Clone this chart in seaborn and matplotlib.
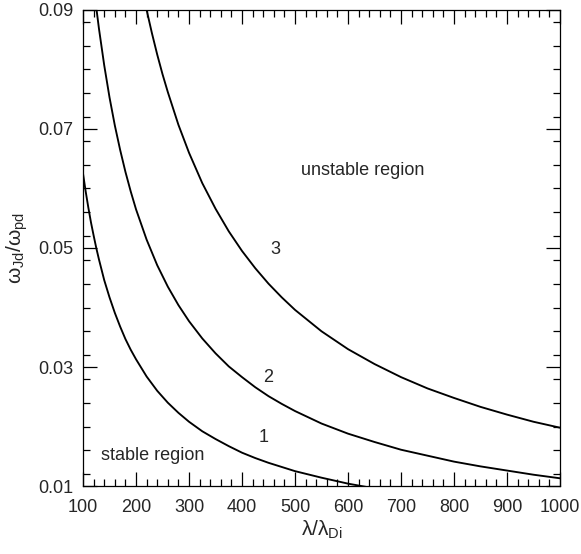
import numpy as np
import pandas as pd
import matplotlib
matplotlib.use("Agg")
import matplotlib.pyplot as plt
from matplotlib.ticker import MultipleLocator
import seaborn as sns

# curve values
x_curve1 = [100, 105, 110, 115, 120, 125, 130, 140, 150, 160, 170, 180, 190,
            200, 220, 240, 260, 280, 300, 325, 350, 375, 400, 425, 450, 475,
            500, 550, 600, 650]
y_curve1 = [0.0625, 0.0595, 0.0568, 0.0543, 0.0521, 0.0500, 0.0481, 0.0446,
            0.0417, 0.0391, 0.0368, 0.0347, 0.0329, 0.0313, 0.0284, 0.0260,
            0.0240, 0.0223, 0.0208, 0.0192, 0.0179, 0.0167, 0.0156, 0.0147,
            0.0139, 0.0132, 0.0125, 0.0114, 0.0104, 0.0096]

x_curve2 = [115, 120, 125, 130, 140, 150, 160, 170, 180, 190, 200, 220, 240,
            260, 280, 300, 325, 350, 375, 400, 425, 450, 475, 500, 550, 600,
            650, 700, 750, 800, 850, 900, 950, 1000]
y_curve2 = [0.0983, 0.0942, 0.0904, 0.0869, 0.0807, 0.0753, 0.0706, 0.0665,
            0.0628, 0.0595, 0.0565, 0.0514, 0.0471, 0.0435, 0.0404, 0.0377,
            0.0348, 0.0323, 0.0301, 0.0283, 0.0266, 0.0251, 0.0238, 0.0226,
            0.0205, 0.0188, 0.0174, 0.0161, 0.0151, 0.0141, 0.0133, 0.0126,
            0.0119, 0.0113]

x_curve3 = [205, 210, 220, 230, 240, 250, 260, 280, 300, 325, 350, 375, 400,
            425, 450, 475, 500, 550, 600, 650, 700, 750, 800, 850, 900, 950,
            1000]
y_curve3 = [0.0966, 0.0943, 0.0900, 0.0861, 0.0825, 0.0792, 0.0762, 0.0707,
            0.0660, 0.0609, 0.0566, 0.0528, 0.0495, 0.0466, 0.0440, 0.0417,
            0.0396, 0.0360, 0.0330, 0.0305, 0.0283, 0.0264, 0.0248, 0.0233,
            0.0220, 0.0208, 0.0198]

x_ticks = [100, 200, 300, 400, 500, 600, 700, 800, 900, 1000]
y_ticks = [0.01, 0.03, 0.05, 0.07, 0.09]
y_tick_labels = ["0.01", "0.03", "0.05", "0.07", "0.09"]

curve_names = ["1", "2", "3"]
curve_label_x = [440, 449, 462]
curve_label_y = [0.0182, 0.0282, 0.0497]

df = pd.concat([
    pd.DataFrame({"x": x_curve1, "y": y_curve1, "curve": "1"}),
    pd.DataFrame({"x": x_curve2, "y": y_curve2, "curve": "2"}),
    pd.DataFrame({"x": x_curve3, "y": y_curve3, "curve": "3"}),
])

sns.set_style("ticks")
plt.rcParams['font.family'] = ['Liberation Sans', 'DejaVu Sans']
plt.rcParams['mathtext.fontset'] = 'custom'
plt.rcParams['mathtext.rm'] = 'Liberation Sans'
plt.rcParams['mathtext.it'] = 'Liberation Sans'

fig = plt.figure(figsize=(5.81, 5.54), dpi=100)
ax = fig.add_axes([0.1429, 0.1227, 0.821, 0.8593])

sns.lineplot(data=df, x="x", y="y", hue="curve", palette=["black"] * 3,
             estimator=None, sort=False, linewidth=1.35, legend=False, ax=ax)

ax.set_xlim(100, 1000)
ax.set_ylim(0.01, 0.09)
ax.set_xticks(x_ticks)
ax.set_yticks(y_ticks)
ax.set_yticklabels(y_tick_labels)
ax.xaxis.set_minor_locator(MultipleLocator(20))
ax.yaxis.set_minor_locator(MultipleLocator(0.004))
ax.tick_params(which="both", direction="in", top=True, right=True,
               color="black", width=0.9)
ax.tick_params(which="major", length=10, labelsize=13)
ax.tick_params(axis="x", which="major", pad=9)
ax.tick_params(axis="y", which="major", pad=7)
ax.tick_params(which="minor", length=5)
for sp in ax.spines.values():
    sp.set_linewidth(0.9)
    sp.set_color("black")

ax.set_xlabel(r"$\lambda/\lambda_{\mathrm{Di}}$", fontsize=15, labelpad=2)
ax.set_ylabel(r"$\omega_{\mathrm{Jd}}/\omega_{\mathrm{pd}}$", fontsize=15,
              labelpad=6)

for name, lx, ly in zip(curve_names, curve_label_x, curve_label_y):
    ax.text(lx, ly, name, fontsize=13, ha="center", va="center")
ax.text(628, 0.0631, "unstable region", fontsize=13, ha="center", va="center")
ax.text(232, 0.0152, "stable region", fontsize=13, ha="center", va="center")

fig.savefig("out.png", dpi=100)
